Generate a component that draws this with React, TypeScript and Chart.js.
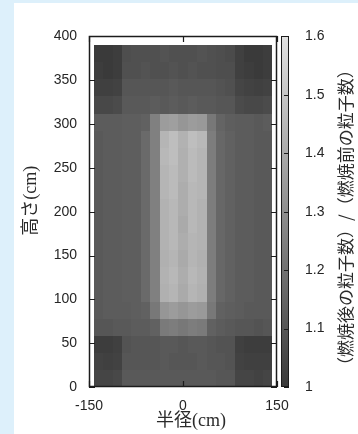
import React, { useEffect, useRef } from 'react';
import { Chart, registerables } from 'chart.js';

Chart.register(...registerables);

// Cell edges (cm)
const radiusEdges = [-142.5, -127.5, -112.5, -97.5, -82.5, -67.5, -52.5, -37.5, -22.5, -7.5, 7.5, 22.5, 37.5, 52.5, 67.5, 82.5, 97.5, 112.5, 127.5, 142.5];
const heightEdges = [0, 19.5, 39, 58.5, 78, 97.5, 117, 136.5, 156, 175.5, 195, 214.5, 234, 253.5, 273, 292.5, 312, 331.5, 351, 370.5, 390];

// Ratio values, rows from bottom (0 cm) to top (390 cm), columns from -142.5 to 142.5 cm
const ratioRows: number[][] = [
  [1.04, 1.04, 1.05, 1.11, 1.11, 1.11, 1.11, 1.11, 1.11, 1.11, 1.11, 1.11, 1.11, 1.10, 1.10, 1.04, 1.04, 1.03, 1.04],
  [1.03, 1.02, 1.03, 1.10, 1.10, 1.10, 1.10, 1.11, 1.10, 1.10, 1.10, 1.11, 1.10, 1.10, 1.09, 1.03, 1.02, 1.02, 1.02],
  [1.01, 1.01, 1.02, 1.09, 1.10, 1.10, 1.10, 1.11, 1.11, 1.10, 1.11, 1.11, 1.10, 1.09, 1.09, 1.02, 1.01, 1.01, 1.01],
  [1.10, 1.10, 1.11, 1.11, 1.12, 1.12, 1.14, 1.23, 1.24, 1.22, 1.24, 1.23, 1.14, 1.12, 1.11, 1.10, 1.10, 1.09, 1.10],
  [1.11, 1.12, 1.12, 1.12, 1.13, 1.14, 1.22, 1.33, 1.35, 1.33, 1.35, 1.34, 1.22, 1.14, 1.13, 1.12, 1.11, 1.11, 1.11],
  [1.11, 1.12, 1.12, 1.13, 1.13, 1.17, 1.25, 1.42, 1.44, 1.40, 1.44, 1.42, 1.24, 1.16, 1.14, 1.12, 1.12, 1.11, 1.11],
  [1.11, 1.12, 1.12, 1.13, 1.13, 1.17, 1.25, 1.43, 1.45, 1.41, 1.45, 1.43, 1.24, 1.16, 1.14, 1.12, 1.12, 1.11, 1.11],
  [1.11, 1.12, 1.12, 1.13, 1.13, 1.17, 1.25, 1.42, 1.44, 1.40, 1.44, 1.42, 1.24, 1.16, 1.14, 1.12, 1.12, 1.11, 1.11],
  [1.11, 1.12, 1.12, 1.13, 1.13, 1.17, 1.25, 1.43, 1.45, 1.41, 1.44, 1.43, 1.24, 1.16, 1.14, 1.12, 1.12, 1.11, 1.11],
  [1.11, 1.12, 1.12, 1.13, 1.13, 1.17, 1.25, 1.43, 1.45, 1.40, 1.45, 1.43, 1.24, 1.16, 1.14, 1.12, 1.12, 1.11, 1.11],
  [1.11, 1.12, 1.12, 1.13, 1.13, 1.17, 1.25, 1.43, 1.45, 1.41, 1.45, 1.43, 1.24, 1.16, 1.14, 1.12, 1.12, 1.11, 1.11],
  [1.11, 1.12, 1.12, 1.13, 1.13, 1.17, 1.25, 1.44, 1.46, 1.41, 1.45, 1.44, 1.24, 1.16, 1.14, 1.12, 1.12, 1.11, 1.11],
  [1.11, 1.12, 1.12, 1.13, 1.13, 1.17, 1.25, 1.44, 1.46, 1.42, 1.46, 1.44, 1.24, 1.16, 1.14, 1.12, 1.12, 1.11, 1.11],
  [1.11, 1.12, 1.12, 1.13, 1.13, 1.17, 1.25, 1.45, 1.47, 1.42, 1.46, 1.44, 1.24, 1.16, 1.14, 1.12, 1.12, 1.11, 1.11],
  [1.11, 1.12, 1.12, 1.13, 1.13, 1.17, 1.25, 1.44, 1.47, 1.43, 1.47, 1.45, 1.24, 1.16, 1.14, 1.12, 1.12, 1.11, 1.11],
  [1.12, 1.12, 1.12, 1.13, 1.13, 1.14, 1.25, 1.35, 1.36, 1.33, 1.35, 1.34, 1.22, 1.15, 1.13, 1.12, 1.12, 1.11, 1.12],
  [1.05, 1.05, 1.06, 1.11, 1.11, 1.11, 1.12, 1.11, 1.12, 1.11, 1.12, 1.11, 1.11, 1.10, 1.10, 1.06, 1.05, 1.05, 1.06],
  [1.02, 1.02, 1.03, 1.10, 1.10, 1.10, 1.10, 1.10, 1.11, 1.10, 1.10, 1.10, 1.10, 1.09, 1.08, 1.04, 1.03, 1.02, 1.03],
  [1.01, 1.00, 1.01, 1.08, 1.08, 1.09, 1.08, 1.08, 1.09, 1.08, 1.09, 1.08, 1.08, 1.07, 1.07, 1.02, 1.01, 1.00, 1.01],
  [1.00, 1.00, 1.01, 1.07, 1.08, 1.08, 1.08, 1.09, 1.08, 1.08, 1.08, 1.09, 1.08, 1.07, 1.06, 1.02, 1.00, 1.00, 1.01],
];

const xTicks = [-150, 0, 150];
const yTicks = [0, 50, 100, 150, 200, 250, 300, 350, 400];
const cbTicks = [1, 1.1, 1.2, 1.3, 1.4, 1.5, 1.6];
const cbMin = 1;
const cbMax = 1.6;

const xTitle = '半径(cm)';
const yTitle = '高さ(cm)';
const cbTitle = '（燃焼後の粒子数）/（燃焼前の粒子数）';

function grayFor(v: number): string {
  const g = Math.max(0, Math.min(255, Math.round(58 + 280 * (v - 1))));
  return `rgb(${g},${g},${g})`;
}

const tickFont = { family: '"Liberation Sans", Arial, sans-serif', size: 14 };
const tickColor = '#262626';

const heatmapPlugin = {
  id: 'heatmapCells',
  beforeDatasetsDraw(chart: any) {
    const { ctx, chartArea: a } = chart;
    const xs = chart.scales.x;
    const ys = chart.scales.y;
    const cs = chart.scales.cb;
    ctx.save();
    for (let r = 0; r < ratioRows.length; r++) {
      const y0 = Math.round(ys.getPixelForValue(heightEdges[r]));
      const y1 = Math.round(ys.getPixelForValue(heightEdges[r + 1]));
      for (let c = 0; c < ratioRows[r].length; c++) {
        const x0 = Math.round(xs.getPixelForValue(radiusEdges[c]));
        const x1 = Math.round(xs.getPixelForValue(radiusEdges[c + 1]));
        ctx.fillStyle = grayFor(ratioRows[r][c]);
        ctx.fillRect(x0, y1, x1 - x0, y0 - y1);
      }
    }
    // frame
    const L = Math.round(a.left), R = Math.round(a.right), T = Math.round(a.top), B = Math.round(a.bottom);
    ctx.strokeStyle = '#1c1c1c';
    ctx.lineWidth = 1.5;
    ctx.strokeRect(L + 0.5, T + 0.5, R - L - 1, B - T - 1);
    // inward ticks
    ctx.lineWidth = 1.2;
    ctx.beginPath();
    yTicks.forEach((v) => {
      const py = Math.round(ys.getPixelForValue(v)) + 0.5;
      ctx.moveTo(L, py); ctx.lineTo(L + 6, py);
      ctx.moveTo(R, py); ctx.lineTo(R - 6, py);
    });
    xTicks.forEach((v) => {
      const px = Math.round(xs.getPixelForValue(v)) + 0.5;
      ctx.moveTo(px, B); ctx.lineTo(px, B - 6);
      ctx.moveTo(px, T); ctx.lineTo(px, T + 6);
    });
    ctx.stroke();
    // colour bar
    const cbL = Math.round(cs.left) + 4;
    const cbW = 8;
    const cbBottom = Math.round(cs.getPixelForValue(cbMin));
    const cbTop = Math.round(cs.getPixelForValue(cbMax));
    const grad = ctx.createLinearGradient(0, cbBottom, 0, cbTop);
    cbTicks.forEach((v) => grad.addColorStop((v - cbMin) / (cbMax - cbMin), grayFor(v)));
    ctx.fillStyle = grad;
    ctx.fillRect(cbL, cbTop, cbW, cbBottom - cbTop);
    ctx.strokeStyle = '#1c1c1c';
    ctx.lineWidth = 1;
    ctx.strokeRect(cbL + 0.5, cbTop + 0.5, cbW - 1, cbBottom - cbTop - 1);
    ctx.beginPath();
    cbTicks.forEach((v) => {
      const py = Math.round(cs.getPixelForValue(v)) + 0.5;
      ctx.moveTo(cbL + 3, py); ctx.lineTo(cbL + cbW, py);
    });
    ctx.stroke();
    ctx.restore();
  },
  afterDraw(chart: any) {
    const { ctx, chartArea: a } = chart;
    ctx.save();
    ctx.fillStyle = '#2a2a2a';
    ctx.textAlign = 'center';
    ctx.textBaseline = 'middle';
    ctx.font = '18px "Liberation Serif", "Noto Sans CJK JP", serif';
    ctx.fillText(xTitle, (a.left + a.right) / 2 + 8, a.bottom + 34);
    ctx.save();
    ctx.translate(a.left - 58, (a.top + a.bottom) / 2 - 11);
    ctx.rotate(-Math.PI / 2);
    ctx.fillText(yTitle, 0, 0);
    ctx.restore();
    ctx.font = '17px "Noto Sans CJK JP", sans-serif';
    ctx.save();
    ctx.translate(a.right + 69, (a.top + a.bottom) / 2 + 6);
    ctx.rotate(-Math.PI / 2);
    ctx.fillText(cbTitle, 0, 0);
    ctx.restore();
    ctx.restore();
  },
};

export default function App() {
  const canvasRef = useRef<HTMLCanvasElement | null>(null);

  useEffect(() => {
    const canvas = canvasRef.current;
    if (!canvas) return;
    const chart = new Chart(canvas, {
      type: 'scatter',
      data: { datasets: [{ data: [], pointRadius: 0 }] },
      options: {
        animation: false,
        responsive: false,
        devicePixelRatio: 1,
        events: [],
        layout: { padding: { top: 25, left: 0, right: 0, bottom: 0 } },
        plugins: { legend: { display: false }, tooltip: { enabled: false }, title: { display: false } },
        scales: {
          x: {
            type: 'linear',
            position: 'bottom',
            min: -150,
            max: 150,
            afterBuildTicks: (s: any) => { s.ticks = xTicks.map((v) => ({ value: v })); },
            afterFit: (s: any) => { s.height = 47; },
            grid: { display: false, drawTicks: false },
            border: { display: false },
            ticks: { font: tickFont, color: tickColor, padding: 11, maxRotation: 0, autoSkip: false, callback: (v: any) => String(v) },
          },
          y: {
            type: 'linear',
            position: 'left',
            min: 0,
            max: 400,
            afterBuildTicks: (s: any) => { s.ticks = yTicks.map((v) => ({ value: v })); },
            afterFit: (s: any) => { s.width = 89; },
            grid: { display: false, drawTicks: false },
            border: { display: false },
            ticks: { font: tickFont, color: tickColor, padding: 12, autoSkip: false, callback: (v: any) => String(v) },
          },
          cb: {
            type: 'linear',
            position: 'right',
            min: cbMin,
            max: cbMax,
            afterBuildTicks: (s: any) => { s.ticks = cbTicks.map((v) => ({ value: v })); },
            afterFit: (s: any) => { s.width = 81; },
            grid: { display: false, drawTicks: false },
            border: { display: false },
            ticks: {
              font: tickFont,
              color: tickColor,
              padding: 28,
              autoSkip: false,
              callback: (v: any) => (Math.abs(v - 1) < 1e-9 ? '1' : Number(v).toFixed(1)),
            },
          },
        },
      },
      plugins: [heatmapPlugin],
    } as any);
    return () => chart.destroy();
  }, []);

  return (
    <div style={{ position: 'fixed', left: 0, top: 0, width: 358, height: 434, background: '#ddf0fb', overflow: 'hidden' }}>
      <div style={{ position: 'absolute', left: 14, top: 3, right: 0, bottom: 0, background: '#ffffff' }} />
      <canvas ref={canvasRef} width={358} height={434} style={{ position: 'absolute', left: 0, top: 0, width: 358, height: 434 }} />
    </div>
  );
}
